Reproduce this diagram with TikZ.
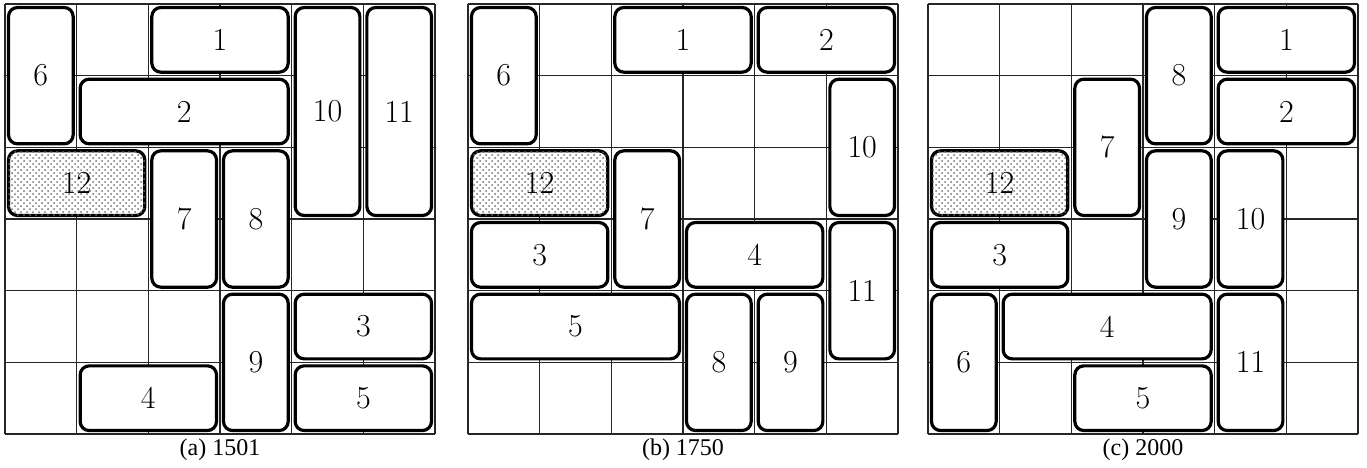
\documentclass[tikz,border=0pt]{standalone}
\usepackage{fontspec}
\newfontfamily\capfont{Liberation Serif}
\usetikzlibrary{patterns}

\newcommand{\cellsz}{71.67}

\begin{document}
\begin{tikzpicture}[
  x=0.5pt, y=-0.5pt,
  blk/.style={draw, line width=1.6pt, rounded corners=4.5pt, fill=white,
              inner sep=0pt, font=\fontsize{16}{16}\selectfont},
  goal/.style={blk, postaction={pattern=crosshatch dots, pattern color=black!55}},
  cells/.style 2 args={minimum width={(#1*\cellsz-7)*0.5pt},
                       minimum height={(#2*\cellsz-7)*0.5pt}},
  gline/.style={line width=0.6pt, black!85},
  captxt/.style={font=\capfont\fontsize{12}{12}\selectfont},
]
  \useasboundingbox (0,0) rectangle (1367,467);

  % grids
  \foreach \gx in {5,468,928} {
    \foreach \i in {0,...,6} {
      \draw[gline] (\gx+\i*\cellsz,4) -- (\gx+\i*\cellsz,434);
      \draw[gline] (\gx,4+\i*\cellsz) -- (\gx+6*\cellsz,4+\i*\cellsz);
    }
  }

  % (a)
  \foreach \c/\r/\w/\h/\l in {0/0/1/2/6, 2/0/2/1/1, 1/1/3/1/2, 4/0/1/3/10,
      5/0/1/3/11, 2/2/1/2/7, 3/2/1/2/8, 3/4/1/2/9, 4/4/2/1/3, 4/5/2/1/5, 1/5/2/1/4}
    \node[blk, cells={\w}{\h}] (a\l)
      at ({5+(\c+\w/2)*\cellsz}, {4+(\r+\h/2)*\cellsz}) {\l};
  \node[goal, cells={2}{1}] (a12) at ({5+1*\cellsz}, {4+2.5*\cellsz}) {12};

  % (b)
  \foreach \c/\r/\w/\h/\l in {0/0/1/2/6, 2/0/2/1/1, 4/0/2/1/2, 5/1/1/2/10,
      2/2/1/2/7, 0/3/2/1/3, 3/3/2/1/4, 5/3/1/2/11, 0/4/3/1/5, 3/4/1/2/8, 4/4/1/2/9}
    \node[blk, cells={\w}{\h}] (b\l)
      at ({468+(\c+\w/2)*\cellsz}, {4+(\r+\h/2)*\cellsz}) {\l};
  \node[goal, cells={2}{1}] (b12) at ({468+1*\cellsz}, {4+2.5*\cellsz}) {12};

  % (c)
  \foreach \c/\r/\w/\h/\l in {3/0/1/2/8, 4/0/2/1/1, 4/1/2/1/2, 2/1/1/2/7,
      3/2/1/2/9, 4/2/1/2/10, 0/3/2/1/3, 0/4/1/2/6, 1/4/3/1/4, 4/4/1/2/11, 2/5/2/1/5}
    \node[blk, cells={\w}{\h}] (c\l)
      at ({928+(\c+\w/2)*\cellsz}, {4+(\r+\h/2)*\cellsz}) {\l};
  \node[goal, cells={2}{1}] (c12) at ({928+1*\cellsz}, {4+2.5*\cellsz}) {12};

  % captions
  \node[captxt] (capa) at (220,450) {(a) 1501};
  \node[captxt] (capb) at (683,450) {(b) 1750};
  \node[captxt] (capc) at (1143,450) {(c) 2000};
\end{tikzpicture}
\end{document}
